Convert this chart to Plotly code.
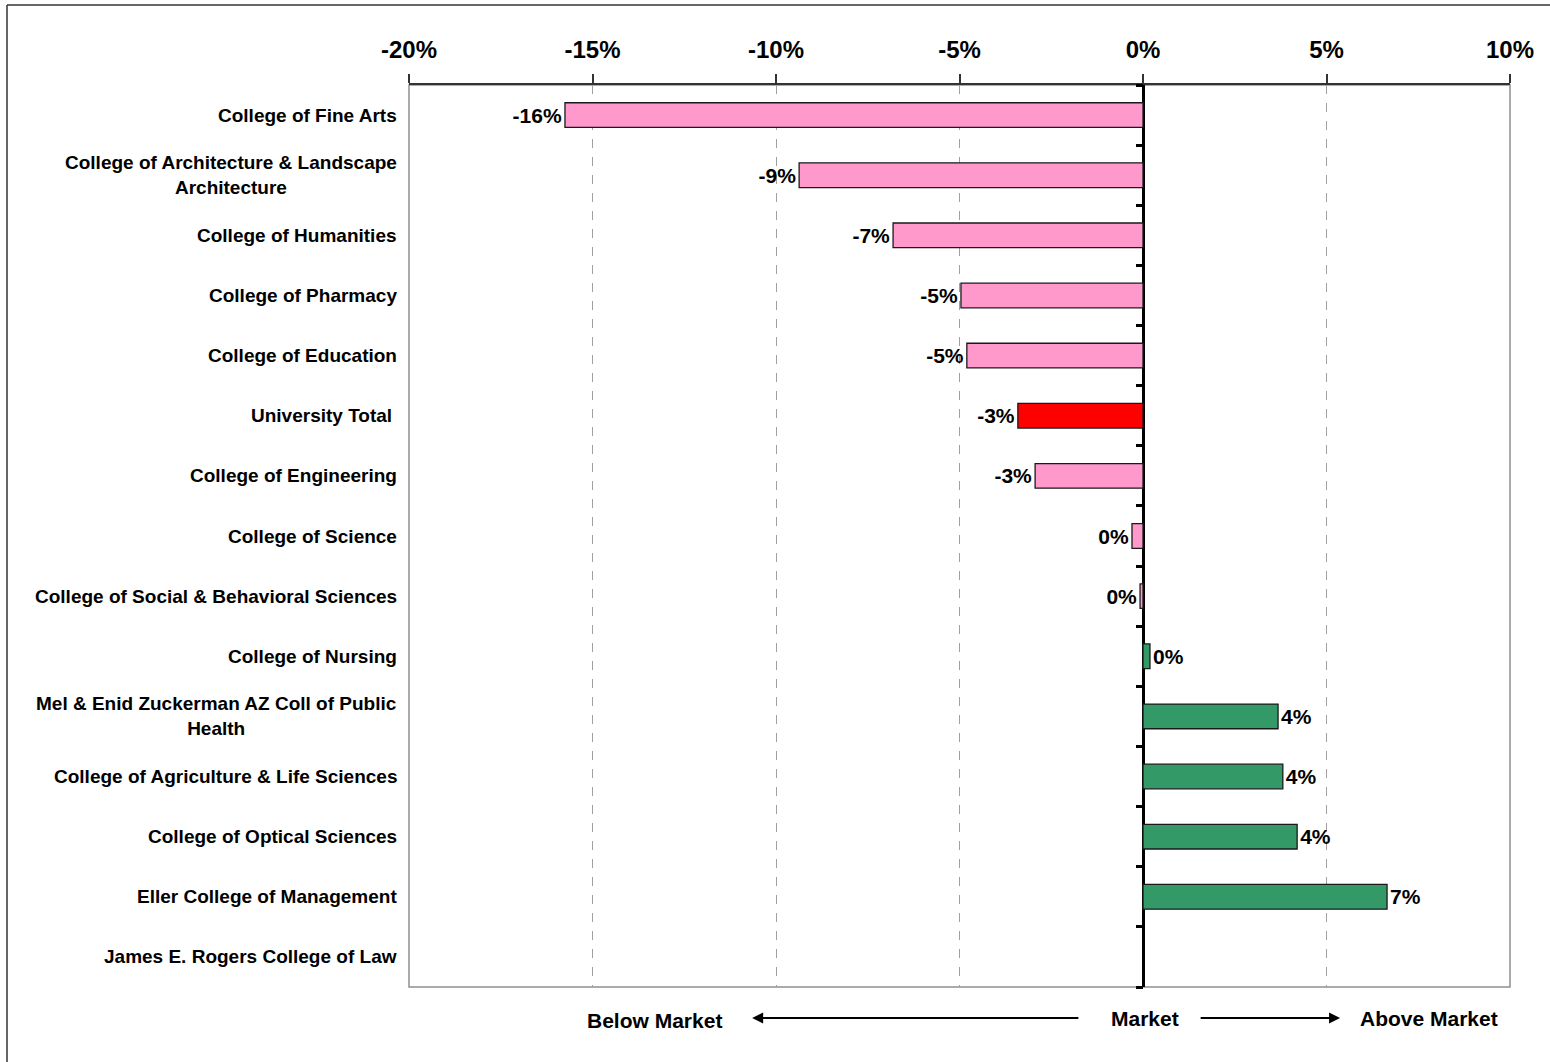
import plotly.graph_objects as go

categories = [
    "College of Fine Arts",
    "College of Architecture & Landscape<br>Architecture",
    "College of Humanities",
    "College of Pharmacy",
    "College of Education",
    "University Total ",
    "College of Engineering",
    "College of Science",
    "College of Social & Behavioral Sciences",
    "College of Nursing",
    "Mel & Enid Zuckerman AZ Coll of Public<br>Health",
    "College of Agriculture & Life Sciences",
    "College of Optical Sciences",
    "Eller College of Management",
    "James E. Rogers College of Law",
]
values = [-15.75, -9.37, -6.81, -4.96, -4.80, -3.41, -2.94, -0.30, -0.08, 0.19,
          3.68, 3.81, 4.20, 6.65, None]
value_labels = ["-16%", "-9%", "-7%", "-5%", "-5%", "-3%", "-3%", "0%", "0%", "0%",
                "4%", "4%", "4%", "7%", ""]
bar_colors = ["#FF99CC"] * 5 + ["#FF0000"] + ["#FF99CC"] * 3 + ["#339966"] * 5 + ["#FFFFFF"]
x_ticks = [-20, -15, -10, -5, 0, 5, 10]
x_tick_labels = ["-20%", "-15%", "-10%", "-5%", "0%", "5%", "10%"]

FONT = "Liberation Sans, Arial, sans-serif"

fig = go.Figure()
fig.add_trace(go.Bar(
    y=categories, x=values, orientation="h",
    marker=dict(color=bar_colors, line=dict(color="#1a1a1a", width=1.3)),
    width=0.41,
    text=value_labels, textposition="outside", cliponaxis=False,
    textfont=dict(family=FONT, size=21, color="#000", weight="bold"),
    hoverinfo="skip",
))
# invisible trace to anchor the zero-line tick axis
fig.add_trace(go.Scatter(x=[0], y=[0], yaxis="y2", mode="markers",
                         marker=dict(opacity=0), showlegend=False, hoverinfo="skip"))

n = len(categories)
fig.update_layout(
    width=1550, height=1062,
    margin=dict(l=409, r=40, t=85, b=75),
    paper_bgcolor="white", plot_bgcolor="white",
    showlegend=False,
    xaxis=dict(
        side="top", range=[-20, 10], tickvals=x_ticks, ticktext=x_tick_labels,
        tickfont=dict(family=FONT, size=24, color="#000", weight="bold"),
        ticklabelstandoff=6,
        showgrid=True, gridcolor="#A0A0A0", griddash="dash", gridwidth=1,
        showline=True, linecolor="#333", linewidth=2,
        ticks="outside", ticklen=9, tickcolor="#333", tickwidth=1.5,
        zeroline=True, zerolinecolor="#000", zerolinewidth=2.5,
    ),
    yaxis=dict(
        range=[n - 0.5, -0.5], showticklabels=False, showgrid=False,
        zeroline=False, showline=False, ticks="",
    ),
    yaxis2=dict(
        overlaying="y", anchor="free", position=2 / 3, side="left",
        range=[n - 0.5, -0.5], tickvals=[i - 0.5 for i in range(n + 1)],
        showticklabels=False, ticks="outside", ticklen=7, tickwidth=2.5,
        tickcolor="#000", showline=False, showgrid=False, zeroline=False,
    ),
)

# plot frame (gray) left/right/bottom
fig.add_shape(type="rect", xref="paper", yref="paper", x0=0, x1=1, y0=0, y1=1,
              line=dict(color="#909090", width=1.5), layer="below")
# outer figure frame (top & left)
fx = (7 - 409) / 1101
fy_top = (987 - 5) / 902
fig.add_shape(type="line", xref="paper", yref="paper",
              x0=fx, x1=(1560 - 409) / 1101, y0=fy_top, y1=fy_top,
              line=dict(color="#333", width=1.5))
fig.add_shape(type="line", xref="paper", yref="paper",
              x0=fx, x1=fx, y0=fy_top, y1=(987 - 1070) / 902,
              line=dict(color="#333", width=1.5))

# category labels (centered multi-line, right anchored)
for cat in categories:
    fig.add_annotation(x=-0.009, xref="paper", y=cat, yref="y", text=cat,
                       xanchor="right", yanchor="middle", align="center", showarrow=False,
                       font=dict(family=FONT, size=19, color="#000", weight="bold"))

# bottom market annotations
bfont = dict(family=FONT, size=21, color="#000", weight="bold")
def py(px):
    return (987 - px) / 902
fig.add_annotation(x=-13.3, xref="x", y=py(1021), yref="paper", text="Below Market",
                   showarrow=False, font=bfont, xanchor="center", yanchor="middle")
fig.add_annotation(x=0.05, xref="x", y=py(1019), yref="paper", text="Market",
                   showarrow=False, font=bfont, xanchor="center", yanchor="middle")
fig.add_annotation(x=7.8, xref="x", y=py(1019), yref="paper", text="Above Market",
                   showarrow=False, font=bfont, xanchor="center", yanchor="middle")
fig.add_annotation(x=-10.65, xref="x", y=py(1018), yref="paper", text="", showarrow=True,
                   ax=-1.72, axref="x", ay=0, ayref="pixel",
                   arrowhead=2, arrowsize=1.1, arrowwidth=2, arrowcolor="#000")
fig.add_annotation(x=5.37, xref="x", y=py(1018), yref="paper", text="", showarrow=True,
                   ax=1.53, axref="x", ay=0, ayref="pixel",
                   arrowhead=2, arrowsize=1.1, arrowwidth=2, arrowcolor="#000")

fig.write_html("out.html", config={"displayModeBar": False},
               post_script="document.body.style.margin='0';")
